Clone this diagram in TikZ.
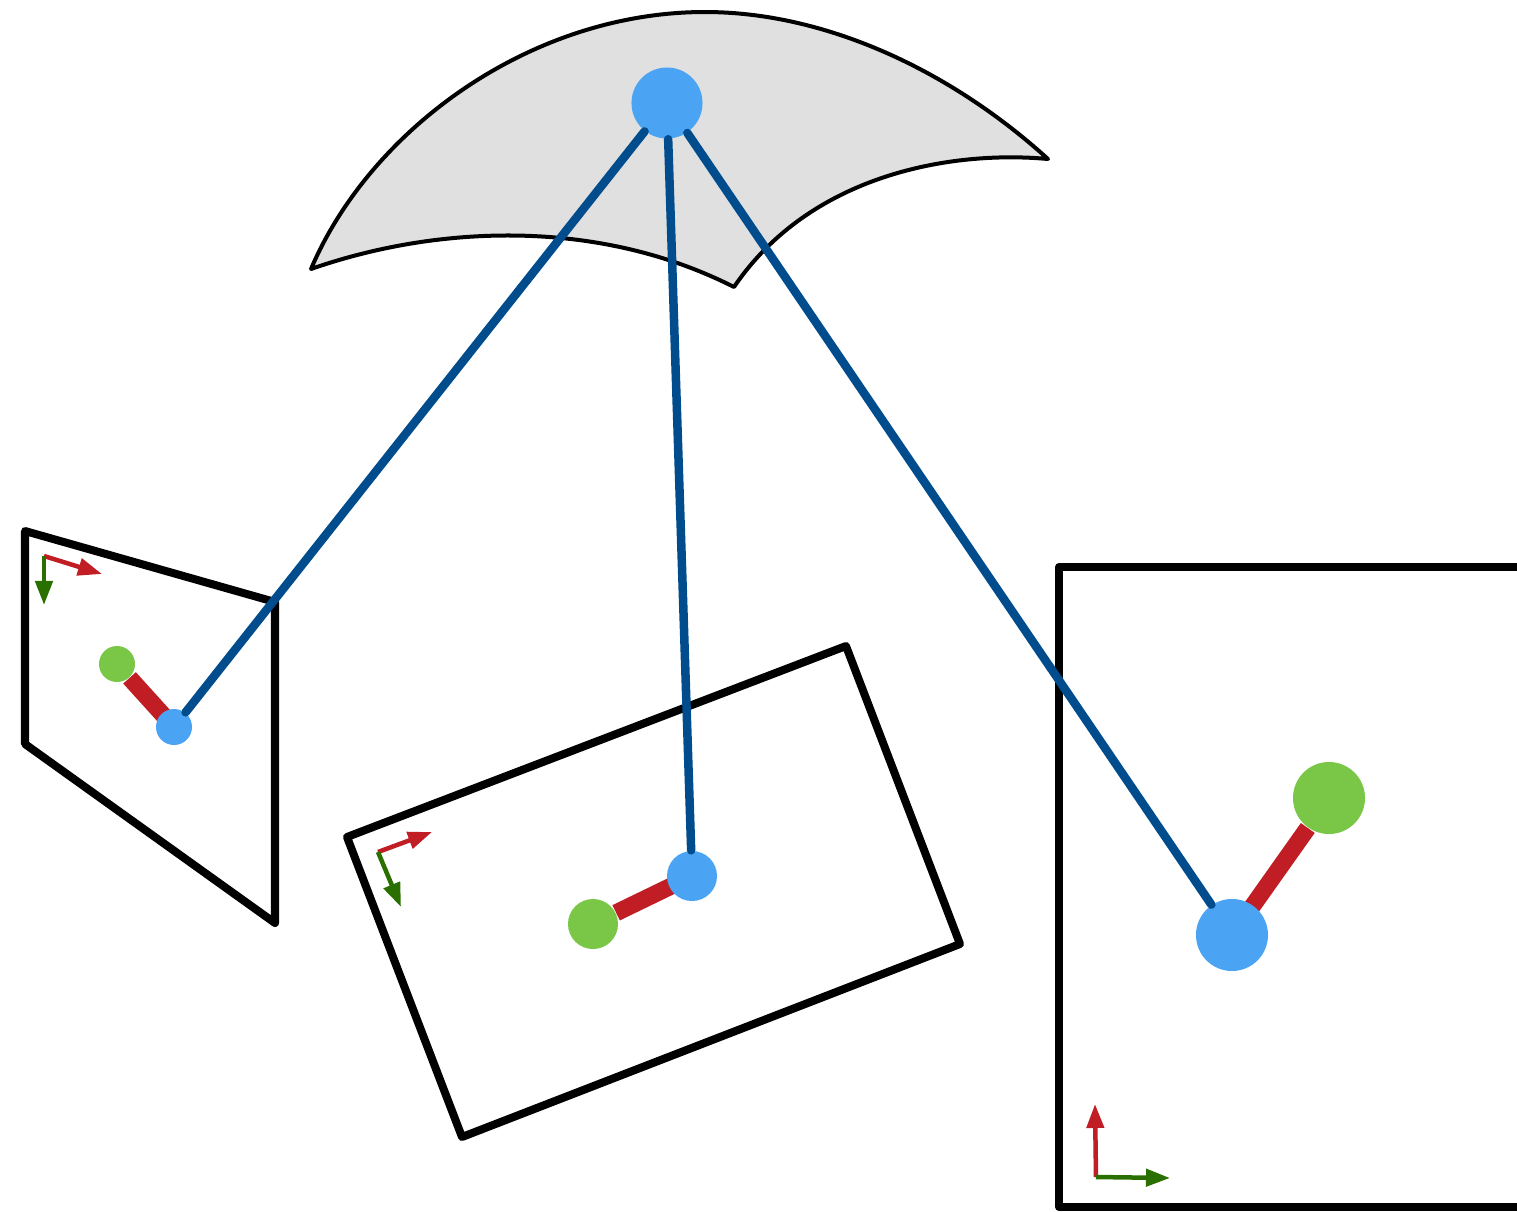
\documentclass[tikz,border=0pt]{standalone}
\usepackage{xcolor}
\usepackage{tikz}
\usetikzlibrary{arrows.meta, backgrounds}
\definecolor{jointBlue}{HTML}{4AA3F3}
\definecolor{rayBlue}{HTML}{004C8C}
\definecolor{tipGreen}{HTML}{7AC646}
\definecolor{boneRed}{HTML}{C01D24}
\definecolor{axisGreen}{HTML}{2A7000}
\definecolor{surfGray}{HTML}{E0E0E0}

\begin{document}
\begin{tikzpicture}[x=0.01cm,y=-0.01cm]
  \tikzset{frame/.style={draw=black,line width=0.8mm,line join=round}, surf/.style={draw=black,fill=surfGray,line width=0.4mm,line join=round}, joint/.style={circle,fill=jointBlue,inner sep=0pt}, tip/.style={circle,fill=tipGreen,inner sep=0pt}, bone/.style={draw=boneRed,line width=1.7mm}, ray/.style={draw=rayBlue,line width=0.85mm,line cap=round}, axisx/.style={-{Triangle[length=2.4mm,width=1.7mm]},draw=boneRed,fill=boneRed,line width=0.45mm}, axisy/.style={-{Triangle[length=2.4mm,width=1.7mm]},draw=axisGreen,fill=axisGreen,line width=0.45mm}}
  \useasboundingbox (0,0) rectangle (1517,1211);
  % surface
  \draw[surf] (311,269) .. controls (370,130) and (530,12) .. (705,12) .. controls (825,12) and (950,70) .. (1048,159) .. controls (950,150) and (810,175) .. (734,287) .. controls (600,219) and (440,224) .. (311,269) -- cycle;
  % image planes
  \draw[frame] (25,531) -- (275,602) -- (275,923) -- (25,744) -- cycle;
  \draw[frame] (846,646) -- (960,944) -- (462,1137) -- (347,837) -- cycle;
  \draw[frame] (1517,567) -- (1059,567) -- (1059,1207) -- (1517,1207);
  % joints
  \node[joint,minimum size=7.1mm] (top) at (667,103) {};
  \node[joint,minimum size=3.6mm] (jointL) at (174,727) {};
  \node[tip,minimum size=3.6mm] (tipL) at (117,664) {};
  \node[joint,minimum size=5mm] (jointM) at (692,876) {};
  \node[tip,minimum size=5mm] (tipM) at (593,924) {};
  \node[joint,minimum size=7.2mm] (jointR) at (1232,935) {};
  \node[tip,minimum size=7.2mm] (tipR) at (1329,798) {};
  \begin{pgfonlayer}{background}
    \draw[bone,shorten >=-4pt] (tipL) -- (jointL);
    \draw[bone,shorten >=-4pt] (tipM) -- (jointM);
    \draw[bone,shorten >=-4pt] (tipR) -- (jointR);
  \end{pgfonlayer}
  % rays
  \draw[ray] (top) -- (jointL);
  \draw[ray] (top) -- (jointM);
  \draw[ray] (top) -- (jointR);
  % camera axes
  \coordinate (oL) at (44,556);
  \coordinate (xL) at (102,574);
  \coordinate (yL) at (44,605);
  \coordinate (oM) at (378,852);
  \coordinate (xM) at (432,832);
  \coordinate (yM) at (401,907);
  \coordinate (oR) at (1096,1177);
  \coordinate (xR) at (1095,1104);
  \coordinate (yR) at (1170,1178);
  \draw[axisx] (oL) -- (xL); \draw[axisy] (oL) -- (yL);
  \draw[axisx] (oM) -- (xM); \draw[axisy] (oM) -- (yM);
  \draw[axisx] (oR) -- (xR); \draw[axisy] (oR) -- (yR);
\end{tikzpicture}
\end{document}
